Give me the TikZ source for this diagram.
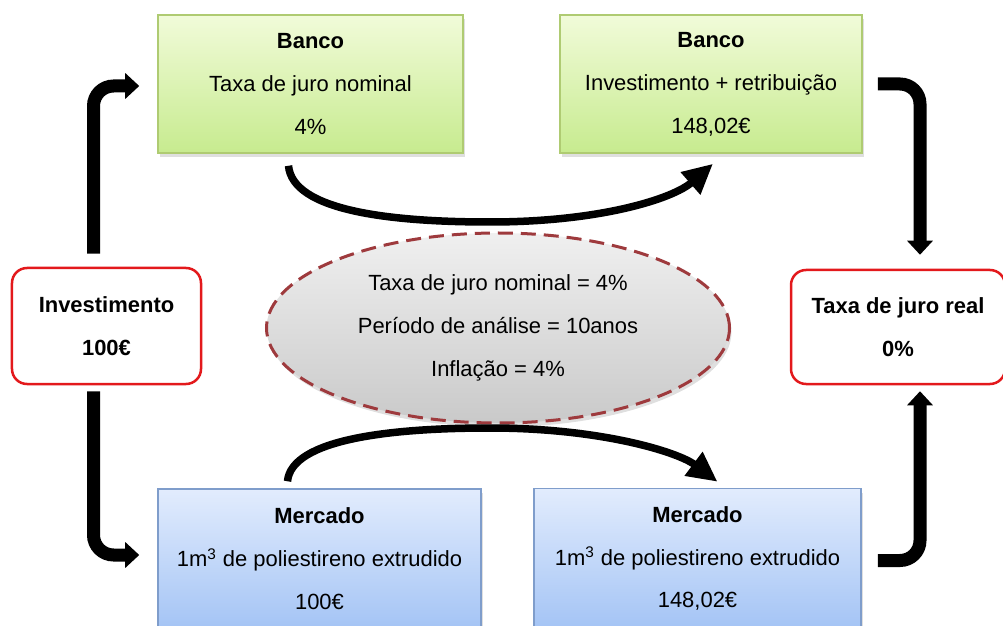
\documentclass[tikz,border=0pt]{standalone}
\usepackage{fontspec}
\setmainfont{Liberation Sans}
\usetikzlibrary{arrows.meta,shapes.geometric,shadows,calc}
\definecolor{bancotop}{HTML}{F1FBD9}
\definecolor{bancobot}{HTML}{C7EB8F}
\definecolor{bancoline}{HTML}{AFCB72}
\definecolor{mercadotop}{HTML}{E2ECFD}
\definecolor{mercadobot}{HTML}{A4C4F5}
\definecolor{mercadoline}{HTML}{7F9DCB}
\definecolor{redline}{HTML}{E3191C}
\definecolor{dashred}{HTML}{9E3A3D}

\begin{document}
\begin{tikzpicture}[x=0.2mm,y=-0.2mm,
        txt/.style={align=center,font=\fontsize{12.5}{24.4}\selectfont},
        boxshadow/.style={drop shadow={shadow xshift=0.4mm,shadow yshift=-0.8mm,opacity=0.25}},
        banco/.style={txt,boxshadow,draw=bancoline,line width=0.3mm,top color=bancotop,bottom color=bancobot,minimum height=27.6mm},
        mercado/.style={txt,boxshadow,draw=mercadoline,line width=0.3mm,top color=mercadotop,bottom color=mercadobot,minimum height=28mm},
        redbox/.style={txt,draw=redline,line width=0.5mm,fill=white,rounded corners=3mm},
        hypo/.style={txt,boxshadow,ellipse,draw=dashred,line width=0.6mm,dash pattern=on 3mm off 1.6mm,top color=gray!12,bottom color=gray!42,minimum width=92.6mm,minimum height=38mm,inner sep=0pt},
        fat/.style={line width=2.6mm,rounded corners=4mm,-{Triangle[width=5mm,length=2.8mm]}},
        curvearrow/.style={line width=1.5mm,-{Triangle[width=5.6mm,length=6mm]}}]
    \useasboundingbox (0,0) rectangle (1003,626);
    % boxes
    \node[banco,minimum width=61mm] (b1) at (310.5,84) {\textbf{Banco}\\Taxa de juro nominal\\4\%};
    \node[banco,minimum width=60.4mm] (b2) at (711,84) {\textbf{Banco}\\Investimento + retribuição\\148,02€};
    \node[redbox,minimum width=37.8mm,minimum height=23.2mm] (inv) at (106.5,326) {\textbf{Investimento}\\\textbf{100€}};
    \node[redbox,minimum width=42.8mm,minimum height=22.8mm] (real) at (898,327) {\textbf{Taxa de juro real}\\\textbf{0\%}};
    \node[mercado,minimum width=64.6mm] (m1) at (319.5,559) {\textbf{Mercado}\\1m\textsuperscript{3} de poliestireno extrudido\\100€};
    \node[mercado,minimum width=65.4mm] (m2) at (697.5,558.5) {\textbf{Mercado}\\1m\textsuperscript{3} de poliestireno extrudido\\148,02€};
    \node[hypo] (hyp) at (498,328) {Taxa de juro nominal = 4\%\\Período de análise = 10anos\\Inflação = 4\%};
    % arrows
    \draw[fat] ($(inv.north)+(-13,-13)$) |- ($(b1.west)+(-18,2)$);
    \draw[fat] ($(inv.south)+(-13,6)$) |- ($(m1.west)+(-18,-4)$);
    \draw[fat] ($(b2.east)+(15,0)$) -| ($(real.north)+(22,-14)$);
    \draw[fat] ($(m2.east)+(16,2)$) -| ($(real.south)+(22,6)$);
    \draw[curvearrow] ($(b1.south)+(-22,12)$) .. controls +(4,45) and +(-100,0) .. (490,222) .. controls +(110,0) and +(-40,35) .. ($(b2.south)+(2,10)$);
    \draw[curvearrow] ($(m1.north)+(-32,-7)$) .. controls +(4,-42) and +(-100,0) .. (490,428) .. controls +(110,0) and +(-40,-30) .. ($(m2.north)+(20,-6)$);
\end{tikzpicture}
\end{document}
